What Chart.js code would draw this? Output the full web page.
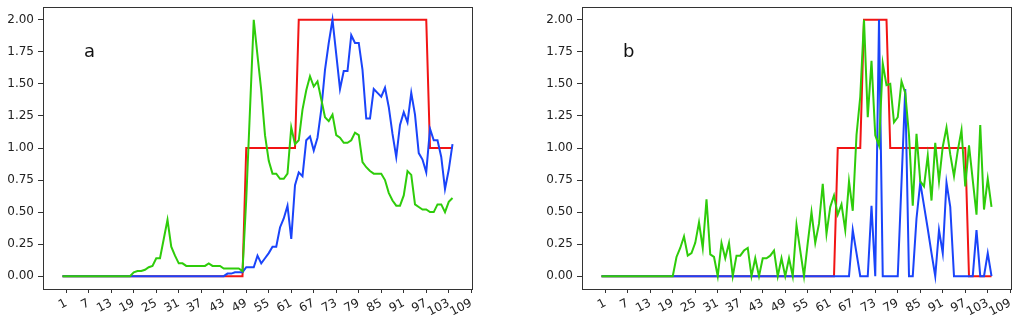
<!DOCTYPE html>
<html>
<head>
<meta charset="utf-8">
<script src="https://cdn.jsdelivr.net/npm/chart.js@4/dist/chart.umd.min.js"></script>
<style>
  html, body { margin: 0; padding: 0; background: #ffffff; }
  #wrap { position: relative; width: 1024px; height: 324px; overflow: hidden; }
  canvas { position: absolute; top: 0; }
  #cA { left: 0; }
  #cB { left: 512px; }
</style>
</head>
<body>
<div id="wrap">
  <canvas id="cA" width="512" height="324"></canvas>
  <canvas id="cB" width="512" height="324"></canvas>
</div>
<script>
// Sample positions (0..104) and the labelled ticks on both axes
const steps = Array.from({ length: 105 }, (_, i) => i);
const xTickValues = [1, 7, 13, 19, 25, 31, 37, 43, 49, 55, 61, 67, 73, 79, 85, 91, 97, 103, 109];
const yTickValues = [0, 0.25, 0.5, 0.75, 1.0, 1.25, 1.5, 1.75, 2.0];

// Panel a
const redA = [
  0,0,0,0,0,0,0,0,0,0, 0,0,0,0,0,0,0,0,0,0, 0,0,0,0,0,0,0,0,0,0,
  0,0,0,0,0,0,0,0,0,0, 0,0,0,0,0,0,0,0,0,1, 1,1,1,1,1,1,1,1,1,1,
  1,1,1,2,2,2,2,2,2,2, 2,2,2,2,2,2,2,2,2,2, 2,2,2,2,2,2,2,2,2,2,
  2,2,2,2,2,2,2,2,1,1, 1,1,1,1,1
];
const blueA = [
  0,0,0,0,0,0,0,0,0,0, 0,0,0,0,0,0,0,0,0,0, 0,0,0,0,0,0,0,0,0,0,
  0,0,0,0,0,0,0,0,0,0, 0,0,0,0,0.02,0.02,0.03,0.03,0.03,0.07,
  0.07,0.07,0.16,0.10,0.14,0.18,0.23,0.23,0.38,0.45,
  0.55,0.29,0.71,0.81,0.78,1.06,1.09,0.98,1.08,1.30,
  1.61,1.82,2.00,1.73,1.46,1.60,1.60,1.88,1.82,1.82,
  1.61,1.23,1.23,1.46,1.43,1.40,1.47,1.32,1.11,0.93,
  1.18,1.28,1.20,1.43,1.26,0.96,0.91,0.81,1.15,1.06,
  1.06,0.93,0.68,0.83,1.03
];
const greenA = [
  0,0,0,0,0,0,0,0,0,0, 0,0,0,0,0,0,0,0,0,0.03,
  0.04,0.04,0.05,0.07,0.08,0.14,0.14,0.29,0.44,0.23,
  0.16,0.10,0.10,0.08,0.08,0.08,0.08,0.08,0.08,0.10,
  0.08,0.08,0.08,0.06,0.06,0.06,0.06,0.06,0.04,0.60,
  1.30,2.00,1.72,1.45,1.10,0.90,0.80,0.80,0.76,0.76,
  0.80,1.16,1.03,1.06,1.30,1.45,1.56,1.48,1.52,1.38,
  1.24,1.21,1.26,1.10,1.08,1.04,1.04,1.06,1.12,1.10,
  0.89,0.85,0.82,0.80,0.80,0.80,0.75,0.65,0.59,0.55,
  0.55,0.63,0.82,0.79,0.56,0.54,0.52,0.52,0.50,0.50,
  0.56,0.56,0.50,0.58,0.61
];

// Panel b
const redB = [
  0,0,0,0,0,0,0,0,0,0, 0,0,0,0,0,0,0,0,0,0, 0,0,0,0,0,0,0,0,0,0,
  0,0,0,0,0,0,0,0,0,0, 0,0,0,0,0,0,0,0,0,0, 0,0,0,0,0,0,0,0,0,0,
  0,0,0,1,1,1,1,1,1,1, 2,2,2,2,2,2,2,1,1,1, 1,1,1,1,1,1,1,1,1,1,
  1,1,1,1,1,1,1,1,0,0, 0,0,0,0,0
];
const blueB = [
  0,0,0,0,0,0,0,0,0,0, 0,0,0,0,0,0,0,0,0,0, 0,0,0,0,0,0,0,0,0,0,
  0,0,0,0,0,0,0,0,0,0, 0,0,0,0,0,0,0,0,0,0, 0,0,0,0,0,0,0,0,0,0,
  0,0,0,0,0,0,0,0.36,0.18,0, 0,0,0.55,0,2.00,0,0,0,0,0,
  0.73,1.46,0,0,0.45,0.73,0.55,0.37,0.18,0,
  0.36,0.18,0.73,0.54,0,0,0,0,0,0,
  0.36,0,0,0.18,0
];
const greenB = [
  0,0,0,0,0,0,0,0,0,0, 0,0,0,0,0,0,0,0,0,0,
  0.15,0.22,0.31,0.16,0.18,0.26,0.42,0.22,0.60,0.17,
  0.15,0,0.26,0.14,0.26,0,0.16,0.16,0.20,0.22,
  0,0.14,0,0.14,0.14,0.16,0.20,0,0.14,0,
  0.14,0,0.40,0.20,0,0.26,0.50,0.26,0.41,0.72,
  0.33,0.54,0.63,0.48,0.56,0.36,0.74,0.51,1.10,1.40,
  2.00,1.24,1.68,1.10,1.02,1.66,1.49,1.50,1.20,1.24,
  1.52,1.43,1.10,0.55,1.11,0.74,0.70,0.94,0.59,1.04,
  0.74,1.01,1.16,0.95,0.78,0.98,1.14,0.70,1.02,0.75,
  0.48,1.18,0.52,0.76,0.54
];

const RED = '#f21414';
const BLUE = '#1a44fa';
const GREEN = '#2ecc0a';
const AXIS = '#333333';
const FONT = "'DejaVu Sans', sans-serif";

function toPoints(values) {
  return steps.map((x, i) => ({ x: x, y: values[i] }));
}

// Draws the four-sided frame around the plotting area and the panel letter
const framePlugin = {
  id: 'frameAndLetter',
  afterDraw(chart, args, opts) {
    const { ctx, chartArea: a } = chart;
    ctx.save();
    ctx.strokeStyle = AXIS;
    ctx.lineWidth = 1;
    ctx.strokeRect(Math.round(a.left) + 0.5, Math.round(a.top) + 0.5,
                   Math.round(a.right - a.left), Math.round(a.bottom - a.top));
    ctx.fillStyle = '#111111';
    ctx.font = "18px " + FONT;
    ctx.textBaseline = 'alphabetic';
    ctx.textAlign = 'left';
    ctx.fillText(opts.letter, opts.lx, opts.ly);
    ctx.restore();
  }
};

function makePanel(canvasId, red, blue, green, yAxisWidth, padRight, letter, lx) {
  const ds = (label, values, color, order) => ({
    label: label,
    data: toPoints(values),
    borderColor: color,
    backgroundColor: color,
    borderWidth: 2,
    pointRadius: 0,
    tension: 0,
    fill: false,
    order: order
  });
  return new Chart(document.getElementById(canvasId), {
    type: 'line',
    data: {
      datasets: [
        ds('red', red, RED, 3),
        ds('blue', blue, BLUE, 2),
        ds('green', green, GREEN, 1)
      ]
    },
    options: {
      responsive: false,
      animation: false,
      events: [],
      layout: { padding: { left: 0, right: padRight, top: 7, bottom: 0 } },
      plugins: {
        legend: { display: false },
        tooltip: { enabled: false },
        frameAndLetter: { letter: letter, lx: lx, ly: 57 }
      },
      scales: {
        x: {
          type: 'linear',
          min: -5.2,
          max: 109.2,
          afterBuildTicks: (s) => { s.ticks = xTickValues.map(v => ({ value: v })); },
          afterFit: (s) => { s.height = 35; s.paddingLeft = 0; s.paddingRight = 0; },
          border: { display: false },
          grid: { display: true, drawOnChartArea: false, drawTicks: true, tickLength: 4, color: AXIS, tickColor: AXIS },
          ticks: {
            autoSkip: false,
            minRotation: 28,
            maxRotation: 28,
            padding: 3,
            color: '#222222',
            font: { family: FONT, size: 12 },
            callback: (v) => String(v)
          }
        },
        y: {
          type: 'linear',
          min: -0.1,
          max: 2.1,
          afterBuildTicks: (s) => { s.ticks = yTickValues.map(v => ({ value: v })); },
          afterFit: (s) => { s.width = yAxisWidth; s.paddingTop = 0; s.paddingBottom = 0; },
          border: { display: false },
          grid: { display: true, drawOnChartArea: false, drawTicks: true, tickLength: 5, color: AXIS, tickColor: AXIS },
          ticks: {
            padding: 4,
            color: '#222222',
            font: { family: FONT, size: 12 },
            callback: (v) => Number(v).toFixed(2)
          }
        }
      }
    },
    plugins: [framePlugin]
  });
}

makePanel('cA', redA, blueA, greenA, 43, 40, 'a', 84);
makePanel('cB', redB, blueB, greenB, 70, 13, 'b', 111);
</script>
</body>
</html>
